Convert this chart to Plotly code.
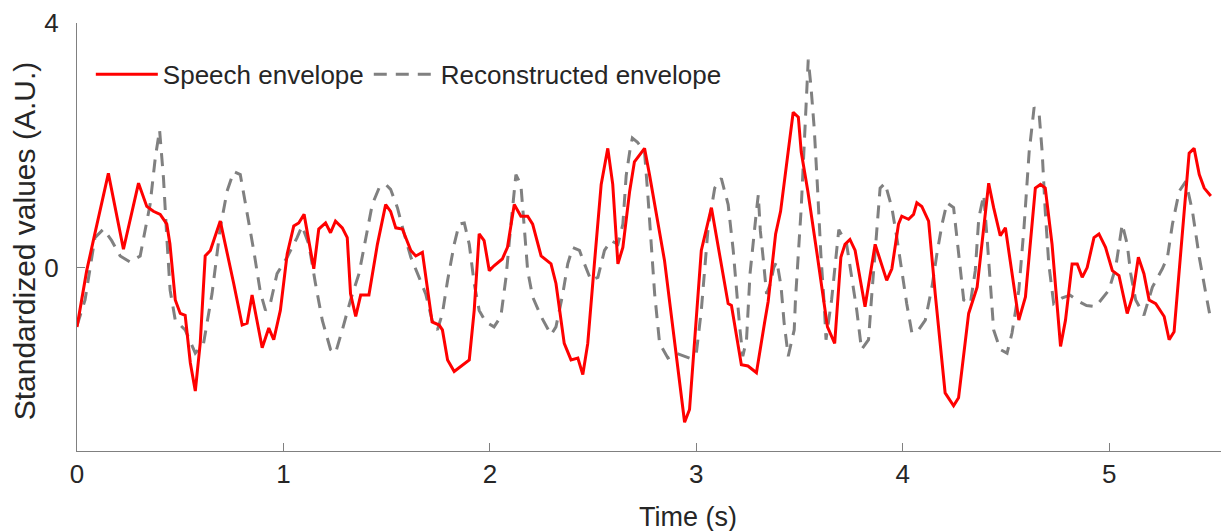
import plotly.graph_objects as go

# Speech envelope (red, solid)
speech_t = [0.0, 0.047, 0.079, 0.152, 0.225, 0.298, 0.338, 0.37, 0.403, 0.435, 0.45, 0.476, 0.50, 0.524,
            0.549, 0.573, 0.597, 0.621, 0.646, 0.694, 0.759, 0.80, 0.824, 0.848, 0.897, 0.929, 0.953, 0.985,
            1.018, 1.05, 1.074, 1.10, 1.147, 1.171, 1.204, 1.228, 1.252, 1.285, 1.309, 1.325, 1.35, 1.374,
            1.414, 1.455, 1.495, 1.519, 1.544, 1.576, 1.617, 1.641, 1.673, 1.72, 1.754, 1.77, 1.795, 1.827,
            1.90, 1.924, 1.948, 1.972, 1.997, 2.02, 2.06, 2.085, 2.118, 2.15, 2.183, 2.207, 2.248, 2.296,
            2.32, 2.36, 2.393, 2.426, 2.45, 2.474, 2.506, 2.539, 2.571, 2.595, 2.62, 2.644, 2.677, 2.70,
            2.749, 2.773, 2.846, 2.943, 2.967, 3.024, 3.073, 3.154, 3.17, 3.218, 3.25, 3.291, 3.33, 3.348,
            3.384, 3.408, 3.469, 3.494, 3.508, 3.54, 3.587, 3.635, 3.67, 3.70, 3.72, 3.744, 3.769, 3.817,
            3.866, 3.922, 3.947, 3.979, 3.995, 4.028, 4.052, 4.068, 4.092, 4.125, 4.157, 4.205, 4.246, 4.27,
            4.319, 4.36, 4.416, 4.44, 4.472, 4.497, 4.562, 4.594, 4.642, 4.667, 4.69, 4.723, 4.764, 4.788,
            4.82, 4.845, 4.869, 4.893, 4.926, 4.95, 4.982, 5.015, 5.047, 5.087, 5.112, 5.141, 5.168, 5.193,
            5.225, 5.266, 5.29, 5.314, 5.363, 5.387, 5.411, 5.436, 5.46, 5.492]
speech_v = [-0.97, -0.05, 0.44, 1.54, 0.30, 1.38, 1.00, 0.92, 0.87, 0.71, 0.39, -0.53, -0.75, -0.78,
            -1.56, -2.02, -1.23, 0.19, 0.28, 0.76, -0.26, -0.94, -0.91, -0.45, -1.31, -0.99, -1.18, -0.70,
            0.22, 0.68, 0.73, 0.87, -0.02, 0.63, 0.73, 0.57, 0.76, 0.65, 0.49, -0.43, -0.80, -0.45,
            -0.45, 0.38, 1.03, 0.92, 0.65, 0.63, 0.28, 0.19, 0.25, -0.89, -0.94, -1.02, -1.51, -1.70,
            -1.51, -0.70, 0.55, 0.44, -0.05, 0.03, 0.14, 0.33, 1.03, 0.84, 0.84, 0.71, 0.19, 0.06,
            -0.26, -1.24, -1.51, -1.48, -1.75, -1.24, 0.06, 1.36, 1.95, 1.36, 0.06, 0.33, 1.25, 1.73,
            1.95, 1.52, 0.11, -2.53, -2.32, 0.28, 0.98, -0.59, -0.62, -1.59, -1.61, -1.72, -0.91, -0.55,
            0.55, 0.92, 2.54, 2.46, 1.89, 1.25, 0.17, -0.97, -1.24, 0.17, 0.38, 0.46, 0.28, -0.64,
            0.38, -0.21, -0.02, 0.71, 0.84, 0.79, 0.87, 1.06, 1.00, 0.76, -0.43, -2.05, -2.26, -2.13,
            -0.75, -0.32, 1.38, 0.98, 0.52, 0.65, -0.86, -0.48, 1.30, 1.36, 1.30, 0.38, -1.29, -0.86,
            0.06, 0.06, -0.16, 0.00, 0.49, 0.55, 0.33, -0.05, -0.13, -0.75, -0.48, 0.17, -0.10, -0.53,
            -0.59, -0.80, -1.18, -1.05, 0.92, 1.87, 1.95, 1.52, 1.30, 1.17]

# Reconstructed envelope (gray, dashed)
recon_t = [0.0, 0.039, 0.087, 0.128, 0.168, 0.209, 0.257, 0.306, 0.354, 0.379, 0.40, 0.419, 0.435, 0.451,
           0.476, 0.524, 0.573, 0.613, 0.654, 0.694, 0.727, 0.759, 0.791, 0.824, 0.856, 0.888, 0.913, 0.937,
           0.969, 1.018, 1.066, 1.09, 1.123, 1.155, 1.188, 1.228, 1.252, 1.285, 1.325, 1.366, 1.398, 1.43,
           1.463, 1.495, 1.519, 1.552, 1.585, 1.617, 1.657, 1.689, 1.72, 1.746, 1.77, 1.795, 1.827, 1.851,
           1.876, 1.90, 1.924, 1.948, 1.98, 2.02, 2.053, 2.078, 2.102, 2.126, 2.15, 2.166, 2.183, 2.207,
           2.248, 2.296, 2.32, 2.353, 2.377, 2.401, 2.434, 2.458, 2.49, 2.523, 2.555, 2.587, 2.62, 2.644,
           2.66, 2.677, 2.69, 2.715, 2.749, 2.765, 2.782, 2.798, 2.822, 2.862, 2.903, 2.967, 3.0, 3.024,
           3.057, 3.089, 3.121, 3.154, 3.178, 3.195, 3.21, 3.225, 3.243, 3.26, 3.275, 3.291, 3.30, 3.31,
           3.325, 3.34, 3.36, 3.375, 3.39, 3.41, 3.425, 3.445, 3.474, 3.48, 3.508, 3.523, 3.53, 3.542,
           3.555, 3.571, 3.587, 3.603, 3.62, 3.628, 3.655, 3.69, 3.728, 3.76, 3.777, 3.80, 3.834, 3.85,
           3.874, 3.89, 3.914, 3.947, 3.971, 3.995, 4.019, 4.044, 4.076, 4.109, 4.141, 4.165, 4.19, 4.214,
           4.246, 4.262, 4.279, 4.295, 4.327, 4.351, 4.368, 4.392, 4.41, 4.425, 4.44, 4.472, 4.505, 4.529,
           4.562, 4.587, 4.612, 4.636, 4.661, 4.675, 4.69, 4.707, 4.731, 4.77, 4.81, 4.85, 4.89, 4.934,
           4.998, 5.031, 5.063, 5.087, 5.104, 5.128, 5.168, 5.209, 5.257, 5.282, 5.306, 5.339, 5.371, 5.403,
           5.436, 5.468, 5.492]
recon_v = [-0.95, -0.53, 0.49, 0.63, 0.44, 0.19, 0.09, 0.19, 1.03, 1.79, 2.25, 1.46, 0.49, -0.37,
           -0.86, -1.02, -1.40, -1.24, -0.43, 0.65, 1.25, 1.57, 1.52, 0.92, 0.28, -0.40, -0.70, -0.58,
           -0.10, 0.17, 0.49, 0.68, 0.38, -0.26, -0.86, -1.34, -1.40, -1.02, -0.53, -0.10, 0.49, 1.03,
           1.30, 1.36, 1.28, 0.98, 0.55, 0.17, -0.16, -0.43, -0.86, -1.02, -0.75, -0.21, 0.38, 0.71,
           0.73, 0.38, -0.26, -0.70, -0.89, -0.97, -0.80, -0.16, 0.71, 1.52, 1.36, 0.65, -0.05, -0.48,
           -0.80, -1.10, -0.97, -0.43, 0.06, 0.33, 0.28, 0.06, -0.21, -0.16, 0.28, 0.44, 0.38, 0.71,
           1.50, 1.89, 2.12, 2.05, 1.89, 1.19, 0.38, -0.43, -1.24, -1.48, -1.40, -1.48, -1.40, -0.70,
           0.65, 1.30, 1.46, 1.03, 0.30, -0.43, -0.97, -1.45, -1.18, -0.10, 0.44, 0.92, 1.19, 0.60,
           0.11, -0.43, -0.25, 0.00, 0.10, -0.30, -0.90, -1.45, -1.02, -0.53, 0.98, 2.06, 2.60, 3.40,
           2.97, 2.27, 1.30, 0.22, -0.64, -1.18, -0.53, 0.62, 0.38, -0.32, -0.70, -1.34, -1.18, -0.43,
           0.71, 1.30, 1.38, 0.98, 0.49, -0.05, -0.59, -1.07, -1.02, -0.86, -0.32, 0.22, 0.71, 1.06,
           0.98, 0.49, -0.05, -0.53, -0.59, -0.05, 0.81, 1.19, 0.40, -0.30, -1.02, -1.34, -1.40, -1.07,
           -0.37, 0.65, 1.89, 2.62, 2.49, 1.89, 0.92, 0.06, -0.59, -0.50, -0.45, -0.55, -0.62, -0.64,
           -0.37, 0.00, 0.71, 0.38, -0.10, -0.53, -0.78, -0.32, -0.02, 0.17, 0.71, 1.25, 1.41, 0.92,
           0.17, -0.43, -0.86]

x_ticks = [0, 1, 2, 3, 4, 5]
y_ticks = [0, 4]

FONT = "Arial, Liberation Sans, Helvetica, sans-serif"
TEXT = "#262626"
AXIS = "#808080"

fig = go.Figure()
fig.add_trace(go.Scatter(
    x=recon_t, y=recon_v, mode="lines", name="Reconstructed envelope",
    line=dict(color="#808080", width=3, dash="13px,9px"), legendrank=2))
fig.add_trace(go.Scatter(
    x=speech_t, y=speech_v, mode="lines", name="Speech envelope",
    line=dict(color="#ff0000", width=3), legendrank=1))

# page body has an 8px margin, so the figure is sized/offset to compensate
fig.update_layout(
    width=1221, height=523,
    margin=dict(l=69, r=0, t=12, b=80),
    paper_bgcolor="white", plot_bgcolor="white",
    font=dict(family=FONT, color=TEXT, size=26),
    showlegend=True,
    legend=dict(orientation="h", x=0.012, y=0.88, xanchor="left", yanchor="middle",
                bgcolor="rgba(0,0,0,0)", font=dict(size=26, color=TEXT),
                itemwidth=62, tracegroupgap=0),
    xaxis=dict(range=[0, 5.58], tickvals=x_ticks, ticks="inside", ticklen=8,
               tickcolor=AXIS, showline=True, linecolor=AXIS, linewidth=1,
               showgrid=False, zeroline=False, tickfont=dict(size=26, color=TEXT),
               ticklabelstandoff=0, ticklabeloverflow="allow"),
    yaxis=dict(range=[-3, 4], tickvals=y_ticks, ticks="inside", ticklen=8,
               tickcolor=AXIS, showline=True, linecolor=AXIS, linewidth=1,
               showgrid=False, zeroline=False, tickfont=dict(size=26, color=TEXT),
               ticklabelstandoff=12, ticklabeloverflow="allow"),
    annotations=[
        dict(text="Time (s)", xref="paper", yref="paper", x=0.530, y=-0.115,
             xanchor="center", yanchor="top", showarrow=False,
             font=dict(size=27, color=TEXT)),
        dict(text="Standardized values (A.U.)", xref="paper", yref="paper",
             x=-0.046, y=0.49, xanchor="center", yanchor="middle", textangle=-90,
             showarrow=False, font=dict(size=30, color=TEXT)),
    ],
)

fig.write_html("out.html")
